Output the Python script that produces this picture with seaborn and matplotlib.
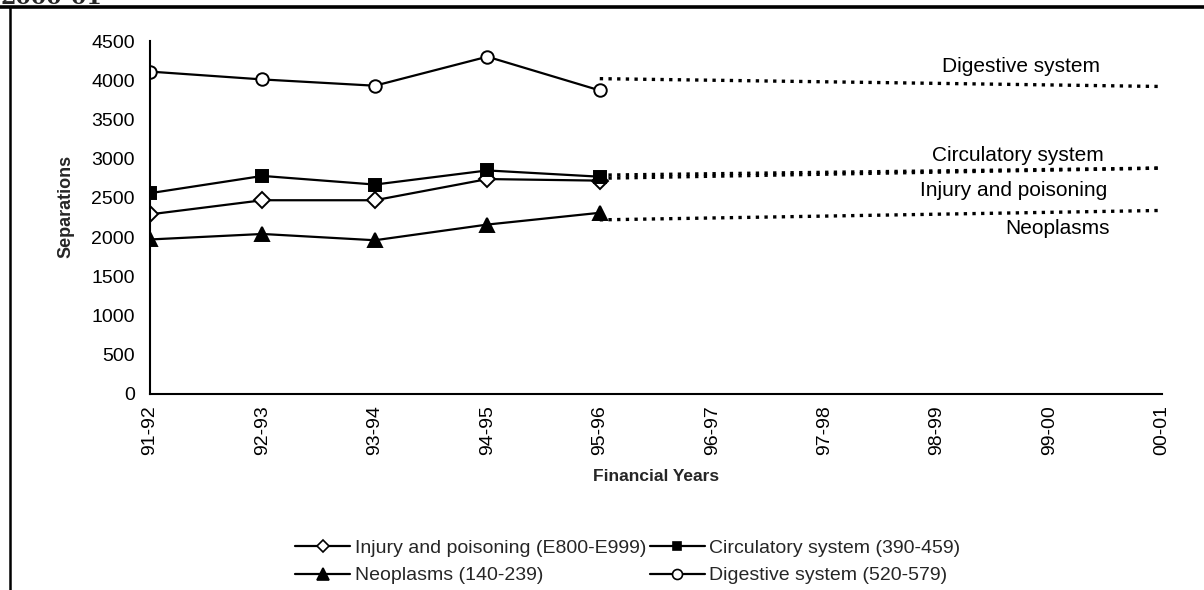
import numpy as np
import pandas as pd
import matplotlib
matplotlib.use("Agg")
import matplotlib.pyplot as plt
import seaborn as sns
from matplotlib.lines import Line2D

# Financial years on the x axis
years = ["91-92", "92-93", "93-94", "94-95", "95-96",
         "96-97", "97-98", "98-99", "99-00", "00-01"]
observed_years = years[:5]

# Observed separations, 1991-92 to 1995-96
injury = [2290, 2470, 2470, 2740, 2720]
circulatory = [2560, 2780, 2670, 2850, 2770]
neoplasms = [1970, 2040, 1960, 2160, 2310]
digestive = [4110, 4010, 3930, 4300, 3870]

# Projected trend, 1995-96 to 2000-01
proj_years = ["95-96", "00-01"]
injury_proj = [2750, 2880]
circulatory_proj = [2790, 2880]
neoplasms_proj = [2220, 2340]
digestive_proj = [4020, 3920]

y_ticks = list(range(0, 4501, 500))

sns.set_theme(style="white")
plt.rcParams["font.family"] = ["Liberation Sans", "DejaVu Sans"]

fig = plt.figure(figsize=(12.04, 5.90), dpi=100)
ax = fig.add_axes([150 / 1204, 1 - 394 / 590, 1012 / 1204, 353 / 590])

pos = {y: i for i, y in enumerate(years)}

series = [
    ("Injury and poisoning (E800-E999)", injury, "D", "white", 8),
    ("Circulatory system (390-459)", circulatory, "s", "black", 8),
    ("Neoplasms (140-239)", neoplasms, "^", "black", 10),
    ("Digestive system (520-579)", digestive, "o", "white", 9),
]

handles = []
for name, vals, mk, fc, ms in series:
    df = pd.DataFrame({"x": [pos[y] for y in observed_years], "y": vals})
    sns.lineplot(data=df, x="x", y="y", ax=ax, color="black", lw=1.6,
                 marker=mk, markersize=ms, markerfacecolor=fc,
                 markeredgecolor="black", markeredgewidth=1.4)
    handles.append(Line2D([], [], color="black", lw=1.6, marker=mk,
                          markersize=ms * 0.8, markerfacecolor=fc,
                          markeredgecolor="black", markeredgewidth=1.2,
                          label=name))

# Dotted projection lines
for vals in [digestive_proj, circulatory_proj, injury_proj, neoplasms_proj]:
    dfp = pd.DataFrame({"x": [pos[y] for y in proj_years], "y": vals})
    sns.lineplot(data=dfp, x="x", y="y", ax=ax, color="black", lw=2.4,
                 linestyle=(0, (1, 1.6)))

label_kw = dict(ha="center", va="center", fontsize=15, color="black")
ax.text(7.75, 4170, "Digestive system", **label_kw)
ax.text(7.72, 3040, "Circulatory system", **label_kw)
ax.text(7.68, 2600, "Injury and poisoning", **label_kw)
ax.text(8.07, 2110, "Neoplasms", **label_kw)

ax.set_xlim(0, len(years) - 1)
ax.set_ylim(0, 4500)
ax.set_xticks(range(len(years)))
ax.set_xticklabels(years, rotation=90, fontsize=14)
ax.set_yticks(y_ticks)
ax.set_yticklabels([str(v) for v in y_ticks], fontsize=14)
ax.tick_params(axis="both", direction="inout", length=10, width=1.3,
               color="black", labelcolor="black")
ax.tick_params(axis="x", pad=3)
ax.tick_params(axis="y", pad=6)
for side in ["top", "right"]:
    ax.spines[side].set_visible(False)
for side in ["left", "bottom"]:
    ax.spines[side].set_color("black")
    ax.spines[side].set_linewidth(1.5)
ax.set_facecolor("white")
ax.grid(False)

ax.set_xlabel("Financial Years", fontsize=12.5, fontweight="bold", labelpad=10)
ax.set_ylabel("Separations", fontsize=13, fontweight="bold")
ax.yaxis.set_label_coords(-0.075, 0.53)

fig.legend(handles=[handles[0], handles[2], handles[1], handles[3]],
           loc="center", bbox_to_anchor=(628 / 1204, 1 - 562 / 590),
           ncol=2, frameon=False, fontsize=14, handlelength=2.8,
           columnspacing=0.2, handletextpad=0.25, labelspacing=0.5)

# Page frame and cut-off heading
fig.add_artist(Line2D([0, 1], [1 - 7 / 590, 1 - 7 / 590],
                      transform=fig.transFigure, color="black", lw=2.6))
fig.add_artist(Line2D([10 / 1204, 10 / 1204], [0, 1 - 7 / 590],
                      transform=fig.transFigure, color="black", lw=1.8))
fig.text(0.0, 1 + 2 / 590, "2000-01", family="DejaVu Serif",
         fontweight="bold", fontsize=16, va="center", ha="left")

fig.savefig("out.png", dpi=100, facecolor="white")
